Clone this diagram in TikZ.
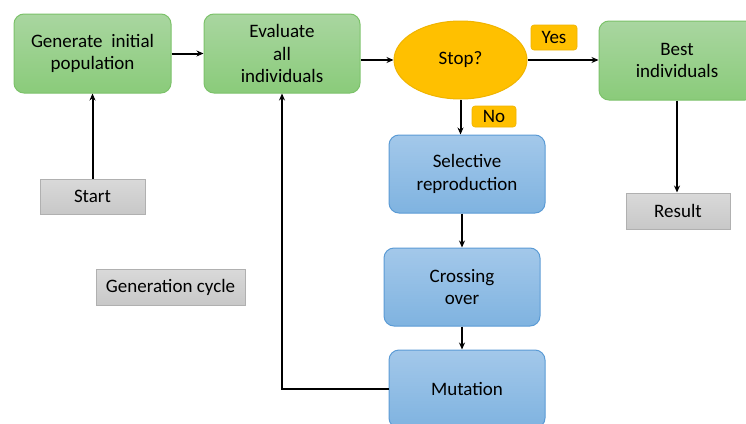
\documentclass[tikz,border=0pt]{standalone}
\usepackage{fontspec}
\setmainfont{Carlito}
\usetikzlibrary{shapes.geometric,arrows.meta}

\definecolor{greentop}{HTML}{A9D6A0}
\definecolor{greenbot}{HTML}{8ACB7A}
\definecolor{greenline}{HTML}{7CC26A}
\definecolor{bluetop}{HTML}{A3C8EA}
\definecolor{bluebot}{HTML}{7FB3E0}
\definecolor{blueline}{HTML}{5B9BD5}
\definecolor{greytop}{HTML}{D9D9D9}
\definecolor{greybot}{HTML}{C8C8C8}
\definecolor{greyline}{HTML}{B0B0B0}
\definecolor{amber}{HTML}{FFC000}
\definecolor{amberline}{HTML}{F0B400}

\tikzset{
  every node/.style={font=\fontsize{19}{22.5}\selectfont, align=center, inner sep=0pt},
  greenbox/.style={rectangle, rounded corners=10pt, draw=greenline, line width=1pt,
    top color=greentop, bottom color=greenbot},
  bluebox/.style={rectangle, rounded corners=10pt, draw=blueline, line width=1pt,
    top color=bluetop, bottom color=bluebot},
  greybox/.style={rectangle, draw=greyline, line width=1pt,
    top color=greytop, bottom color=greybot},
  tagbox/.style={rectangle, rounded corners=3pt, fill=amber, draw=amberline, line width=0.6pt},
  decision/.style={ellipse, fill=amber, draw=amberline, line width=1pt},
  arr/.style={draw=black, line width=2pt, -{Stealth[length=7pt,width=6pt]}}
}

\begin{document}
\begin{tikzpicture}[x=1pt,y=-1pt]
  \useasboundingbox (0,0) rectangle (746,423);
  \clip (0,0) rectangle (746,423);
  \fill[white] (0,0) rectangle (746,423);

  % main loop
  \node[greenbox, minimum width=157pt, minimum height=79pt] (gen) at (92.5,53.5) {Generate\ \ initial\\population};
  \node[greenbox, minimum width=156pt, minimum height=79pt] (eval) at (282,53.5) {Evaluate\\all\\individuals};
  \node[decision, minimum width=133pt, minimum height=78pt] (stop) at (460.5,60) {Stop?};
  \node[greenbox, minimum width=156pt, minimum height=79pt] (best) at (677,60.5) {Best\\individuals};

  \node[bluebox, minimum width=156pt, minimum height=78pt] (sel) at (467,174) {Selective\\reproduction};
  \node[bluebox, minimum width=156pt, minimum height=78pt] (cross) at (462,287) {Crossing\\over};
  \node[bluebox, minimum width=156pt, minimum height=78pt] (mut) at (467,389) {Mutation};

  % grey labels
  \node[greybox, minimum width=105pt, minimum height=35pt] (start) at (92.5,196.5) {Start};
  \node[greybox, minimum width=149pt, minimum height=36pt] (cycle) at (170.5,287) {Generation cycle};
  \node[greybox, minimum width=104pt, minimum height=36pt] (result) at (678,211) {Result};

  % decision tags
  \node[tagbox, minimum width=46pt, minimum height=25pt] (yes) at (554,37.5) {Yes};
  \node[tagbox, minimum width=44pt, minimum height=21pt] (no) at (494,116.5) {No};

  % connectors
  \draw[arr] (start.north) -- (gen.south);
  \draw[arr] (gen.east) -- (eval.west);
  \draw[arr] (eval.east |- stop.west) -- (stop.west);
  \draw[arr] (stop.east) -- (best.west |- stop.east);
  \draw[arr] (stop.south) -- (stop.south |- sel.north);
  \draw[arr] (cross.north |- sel.south) -- (cross.north);
  \draw[arr] (cross.south) -- (cross.south |- mut.north);
  \draw[arr] (mut.west) -| (eval.south);
  \draw[arr] (best.south) -- (best.south |- result.north);
\end{tikzpicture}
\end{document}
